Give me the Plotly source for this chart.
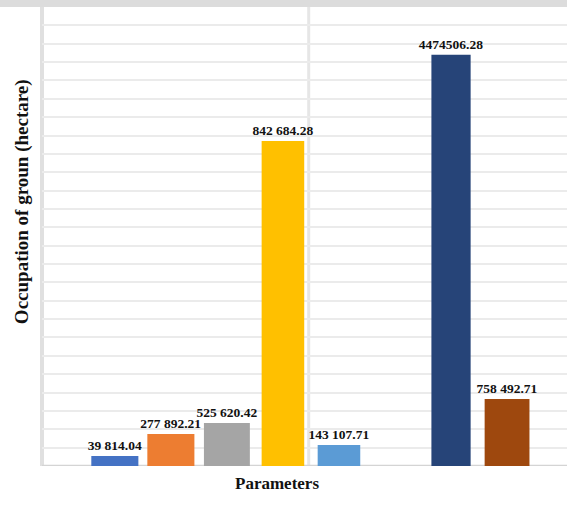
import plotly.graph_objects as go

# Data
categories = ["P1", "P2", "P3", "P4", "P5", "P6", "P7"]
positions = [0, 1, 2, 3, 4, 6, 7]
labels_values = [39814.04, 277892.21, 525620.42, 842684.28, 143107.71, 4474506.28, 758492.71]
label_texts = ["39 814.04", "277 892.21", "525 620.42", "842 684.28", "143 107.71", "4474506.28", "758 492.71"]
# displayed bar heights (in gridline units)
bar_heights = [0.54, 1.74, 2.34, 17.7, 1.14, 22.4, 3.65]
colors = ["#4472C4", "#ED7D31", "#A5A5A5", "#FFC000", "#5B9BD5", "#264478", "#9E480E"]
widths = [0.84, 0.84, 0.82, 0.76, 0.76, 0.7, 0.8]

serif = "Liberation Serif, Times New Roman, serif"

fig = go.Figure()
fig.add_trace(go.Bar(
    x=positions, y=bar_heights, width=widths,
    marker=dict(color=colors, line=dict(width=0)),
    text=label_texts, textposition="outside", constraintext="none",
    textfont=dict(family=serif, size=13.5, color="#111111", weight="bold"),
    cliponaxis=False,
    customdata=labels_values,
    hovertext=categories,
))

fig.update_layout(
    width=567, height=506,
    margin=dict(l=42, r=0, t=7, b=40),
    paper_bgcolor="white", plot_bgcolor="white",
    showlegend=False,
    bargap=0.2,
    xaxis=dict(range=[-1.30, 8.07], showticklabels=False, ticks="", showgrid=False,
               zeroline=False, showline=False),
    yaxis=dict(range=[0, 25], dtick=1, showticklabels=False, ticks="",
               showgrid=True, gridcolor="#ebebeb", gridwidth=1.5,
               zeroline=False, showline=False),
    annotations=[
        dict(text="<b>Occupation of groun (hectare)</b>", textangle=-90,
             xref="paper", yref="paper", x=-0.038, y=0.575, xanchor="center",
             showarrow=False, font=dict(family=serif, size=19, color="#111111")),
        dict(text="<b>Parameters</b>", xref="paper", yref="paper",
             x=0.448, y=-0.063, showarrow=False,
             font=dict(family=serif, size=17, color="#111111")),
    ],
    shapes=[
        dict(type="rect", xref="paper", yref="paper", x0=-0.08, x1=1, y0=1.0, y1=1.016,
             fillcolor="#dcdcdc", line=dict(width=0), layer="below"),
        dict(type="line", xref="paper", yref="paper", x0=0, x1=0, y0=0, y1=1,
             line=dict(color="#e0e0e0", width=4), layer="below"),
        dict(type="line", xref="x", yref="paper", x0=3.46, x1=3.46, y0=0, y1=1,
             line=dict(color="#e6e6e6", width=3), layer="below"),
        dict(type="line", xref="paper", yref="y", x0=0, x1=1, y0=0, y1=0,
             line=dict(color="#d4d4d4", width=2.5), layer="below"),
    ],
)

fig.write_html("out.html")
